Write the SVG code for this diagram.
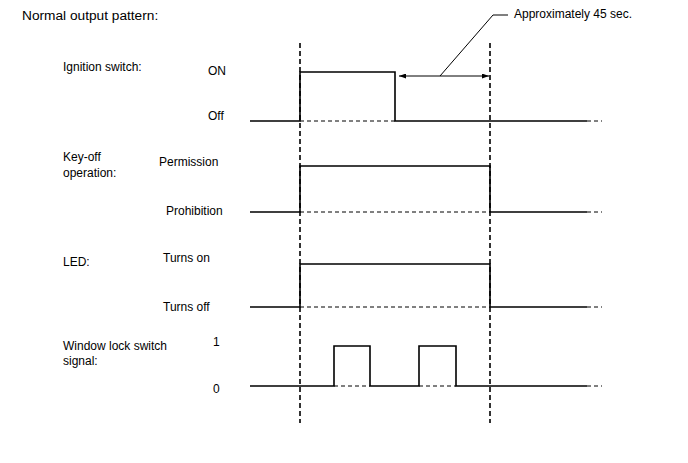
<svg xmlns="http://www.w3.org/2000/svg" width="688" height="463" viewBox="0 0 688 463">
<defs>
<style>
text{font-family:"Liberation Sans",Arial,sans-serif;fill:#000}
.t{font-size:13.7px}
.l{font-size:12px}
.sig{fill:none;stroke:#000;stroke-width:1.6}
.base{fill:none;stroke:#000;stroke-width:1;stroke-dasharray:4 3}
.vd{fill:none;stroke:#000;stroke-width:1.6;stroke-dasharray:5 3}
.ln{fill:none;stroke:#000;stroke-width:1}
</style>
<marker id="ah" viewBox="0 0 7 5" refX="7" refY="2.5" markerWidth="7" markerHeight="5" orient="auto" markerUnits="userSpaceOnUse">
<path d="M0,0 L7,2.5 L0,5 z" fill="#000"/>
</marker>
</defs>
<rect width="688" height="463" fill="#fff"/>
<text class="t" x="22" y="20">Normal output pattern:</text>
<g id="guides">
<line class="vd" x1="300" y1="43" x2="300" y2="423"/>
<line class="vd" x1="490" y1="43" x2="490" y2="423"/>
</g>
<g id="ignition">
<text class="l" x="63" y="71">Ignition switch:</text>
<text class="l" x="208" y="75">ON</text>
<text class="l" x="208" y="120">Off</text>
<polyline class="sig" points="250,121 300,121 300,72 395,72 395,121 587,121"/>
<line class="base" x1="300" y1="121" x2="395" y2="121"/>
<line class="base" x1="587" y1="121" x2="602" y2="121"/>
</g>
<g id="keyoff">
<text class="l" x="63" y="161">Key-off</text>
<text class="l" x="63" y="177">operation:</text>
<text class="l" x="159" y="166">Permission</text>
<text class="l" x="166" y="215">Prohibition</text>
<polyline class="sig" points="250,212 300,212 300,166 490,166 490,212 587,212"/>
<line class="base" x1="300" y1="212" x2="490" y2="212"/>
<line class="base" x1="587" y1="212" x2="602" y2="212"/>
</g>
<g id="led">
<text class="l" x="63" y="266">LED:</text>
<text class="l" x="163" y="262">Turns on</text>
<text class="l" x="163" y="311">Turns off</text>
<polyline class="sig" points="250,307 300,307 300,264 490,264 490,307 587,307"/>
<line class="base" x1="300" y1="307" x2="490" y2="307"/>
<line class="base" x1="587" y1="307" x2="602" y2="307"/>
</g>
<g id="window">
<text class="l" x="63" y="350">Window lock switch</text>
<text class="l" x="63" y="365">signal:</text>
<text class="l" x="213" y="346">1</text>
<text class="l" x="213" y="393">0</text>
<polyline class="sig" points="250,386 334,386 334,346 370,346 370,386 419,386 419,346 456,346 456,386 587,386"/>
<line class="base" x1="334" y1="386" x2="370" y2="386"/>
<line class="base" x1="419" y1="386" x2="456" y2="386"/>
<line class="base" x1="587" y1="386" x2="602" y2="386"/>
</g>
<g id="connectors">
<line class="ln" x1="440" y1="76" x2="399" y2="76" marker-end="url(#ah)"/>
<line class="ln" x1="440" y1="76" x2="489" y2="76" marker-end="url(#ah)"/>
<polyline class="ln" points="440,76 493,15 508,15"/>
</g>
<text class="l" x="514" y="18">Approximately 45 sec.</text>
</svg>
